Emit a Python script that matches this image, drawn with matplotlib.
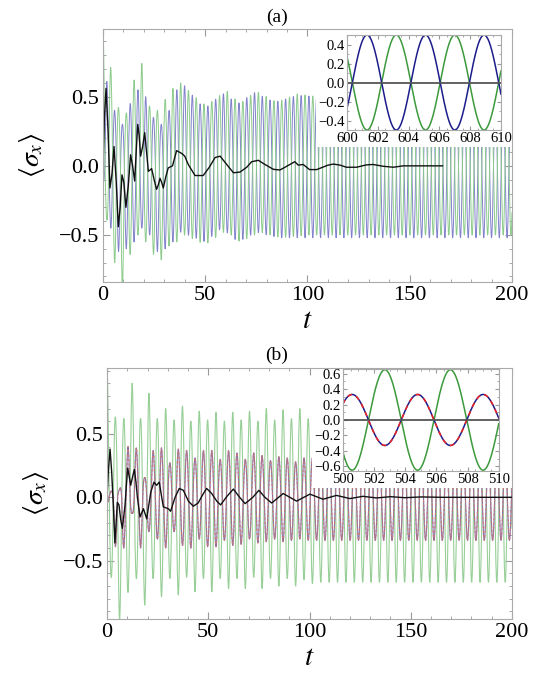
import numpy as np
import matplotlib
matplotlib.use("Agg")
import matplotlib.pyplot as plt
from matplotlib.patches import Rectangle
from matplotlib.ticker import MultipleLocator

plt.rcParams['font.family'] = ['Liberation Serif', 'DejaVu Serif']
plt.rcParams['mathtext.fontset'] = 'stix'

# ---- panel (a) data ----
period_a = 3.8
# green: peaks at k*T, troughs at (k+0.5)*T
green_a_up_t = [0, 3.8, 7.6, 11.4, 15.2, 19.0, 22.8, 26.6, 30.4, 34.2, 38, 45, 50, 55, 60, 67, 75, 85, 95, 105, 200]
green_a_up_v = [1.0, 0.71, 0.42, 0.38, 0.62, 0.74, 0.43, 0.40, 0.48, 0.56, 0.60, 0.50, 0.44, 0.48, 0.55, 0.45, 0.54, 0.46, 0.52, 0.50, 0.50]
green_a_lo_t = [1.9, 5.7, 9.5, 13.3, 17.1, 20.9, 24.7, 28.5, 32.3, 36.1, 40, 50, 60, 67, 77, 87, 100, 200]
green_a_lo_v = [-0.39, -0.70, -0.88, -0.64, -0.50, -0.55, -0.64, -0.68, -0.58, -0.55, -0.50, -0.57, -0.47, -0.55, -0.48, -0.52, -0.50, -0.50]
# blue: peaks at (k+0.5)*T, troughs at k*T
blue_a_up_t = [1.9, 5.7, 9.5, 13.3, 17.1, 20.9, 24.7, 28.5, 32.3, 36.1, 40, 47, 52, 58, 66, 74, 84, 95, 105, 200]
blue_a_up_v = [0.61, 0.40, 0.30, 0.45, 0.55, 0.50, 0.35, 0.30, 0.40, 0.55, 0.58, 0.45, 0.43, 0.53, 0.45, 0.53, 0.46, 0.51, 0.50, 0.50]
blue_a_lo_t = [0, 3.8, 7.6, 11.4, 15.2, 19.0, 22.8, 26.6, 30.4, 34.2, 38, 45, 50, 58, 66, 75, 86, 100, 200]
blue_a_lo_v = [-0.10, -0.45, -0.62, -0.60, -0.55, -0.45, -0.50, -0.62, -0.60, -0.55, -0.48, -0.52, -0.55, -0.45, -0.55, -0.48, -0.52, -0.52, -0.52]
black_a_t = [0, 0.7, 1.5, 2.5, 3.4, 4.4, 5.4, 6.5, 7.5, 8.4, 9.3, 10.2, 11.2, 12.4, 13.5, 14.5, 15.5, 16.3, 17.0,
             17.7, 18.4, 19.4, 20.4, 21.3, 22.2, 23.0, 23.8, 25.0, 26.2, 27.0, 27.9, 28.7, 29.5, 30.7, 31.9,
             34, 36, 38.5, 40, 41.7, 45, 49, 52, 54.8, 57.3, 60.5, 63.8, 67, 70.3, 72.7, 76, 79.2, 83.3, 86.5,
             89, 91.4, 93.8, 95.5, 97.9, 101, 104.5, 110, 112.7, 116, 119, 124, 128.8, 132, 137, 142, 146.8,
             151.7, 158, 166]
black_a_v = [0.0, 0.35, 0.56, 0.25, -0.16, -0.06, 0.14, -0.12, -0.44, -0.30, -0.065, -0.12, -0.30, -0.14, 0.08,
             0.0, -0.11, 0.12, 0.30, 0.22, 0.07, 0.14, 0.24, 0.10, -0.04, -0.03, -0.02, -0.10, -0.17, -0.14,
             -0.09, -0.12, -0.16, -0.08, -0.015, 0.0, 0.11, 0.09, 0.07, 0.01, -0.07, -0.07, -0.01, 0.06, 0.07,
             0.01, -0.05, -0.045, -0.01, 0.03, 0.04, 0.01, -0.025, -0.03, -0.01, 0.01, 0.03, 0.005, 0.01,
             -0.027, -0.027, 0.005, 0.013, 0.005, -0.01, -0.01, 0.007, 0.01, -0.003, -0.01, 0.0, 0.0, 0.0, 0.0]

# inset (a)
inset_a_period = 3.8
inset_a_blue_peak = 601.3
inset_a_green_peak = 603.2
inset_a_amp = 0.5

# ---- panel (b) data ----
period_b = 4.14
green_b_up = [1.03, 0.63, 0.62, 0.90, 0.62, 0.82, 0.62, 0.70, 0.61, 0.72, 0.60, 0.68, 0.61, 0.67, 0.60,
              0.67, 0.61, 0.68, 0.60, 0.70, 0.61, 0.69, 0.62, 0.70, 0.62, 0.66]
green_b_lo = [-0.63, -0.97, -0.75, -0.64, -0.85, -0.64, -0.785, -0.64, -0.77, -0.63, -0.745, -0.64, -0.745,
              -0.64, -0.72, -0.64, -0.72, -0.63, -0.72, -0.64, -0.70, -0.64, -0.70, -0.65, -0.68, -0.67]
rb_b_up = [0.05, 0.06, 0.40, 0.39, 0.15, 0.37, 0.39, 0.27, 0.38, 0.37, 0.31, 0.37, 0.37, 0.30, 0.37,
           0.35, 0.30, 0.35, 0.33, 0.29, 0.32, 0.31, 0.28, 0.31, 0.31, 0.31]
rb_b_lo = [0.0, -0.39, -0.40, -0.12, -0.40, -0.27, -0.33, -0.40, -0.27, -0.38, -0.40, -0.33, -0.39, -0.39,
           -0.34, -0.38, -0.37, -0.33, -0.36, -0.35, -0.33, -0.35, -0.34, -0.33, -0.34, -0.34]
black_b_t = [0, 0.7, 1.5, 2.3, 3.1, 3.9, 4.5, 5.1, 5.9, 6.8, 7.6, 8.9, 9.6, 10.2, 11.0, 11.7, 12.6, 13.5, 14.3,
             15, 16.3, 18, 19.6, 21.6, 23.2, 24.5, 25.8, 27.8, 30.3, 31.4, 33.6, 35.7, 37.7, 40.2, 42.6, 45,
             47.6, 49.2, 51.7, 54.2, 56.1, 59.1, 62.4, 65.5, 68.2, 72, 75, 78, 81.3, 87, 93.6, 100.2, 106.7,
             113.3, 120, 126.4, 133, 140, 147, 155, 165, 180, 200]
black_b_v = [0.0, 0.22, 0.38, 0.20, -0.06, -0.36, -0.20, -0.04, -0.06, -0.18, -0.245, -0.06, 0.10, 0.23, 0.16,
             0.095, 0.16, 0.22, 0.12, 0.0, -0.155, -0.09, -0.17, 0.04, 0.12, 0.095, 0.12, -0.075, -0.09, -0.11,
             0.0, 0.07, 0.055, -0.03, -0.07, -0.045, 0.03, 0.07, 0.03, -0.03, -0.06, 0.005, 0.065, 0.0, -0.05,
             0.0, 0.055, 0.0, -0.045, 0.03, -0.03, 0.025, -0.015, 0.015, -0.01, 0.008, -0.005, 0.005, -0.003,
             0.003, 0.0, 0.0, 0.0]

# inset (b)
inset_b_period = 4.2
inset_b_green_peak = 502.7
inset_b_green_amp = 0.65
inset_b_rb_peak = 500.6
inset_b_rb_amp = 0.33


def osc(t, period, t_peak, up_t, up_v, lo_t, lo_v):
    c = np.cos(2 * np.pi * (t - t_peak) / period)
    up = np.interp(t, up_t, up_v)
    lo = np.interp(t, lo_t, lo_v)
    return np.where(c > 0, c * up, -c * lo)


def style_main(ax, ylim, yticks):
    ax.set_xlim(0, 200)
    ax.set_ylim(*ylim)
    ax.set_xticks([0, 50, 100, 150, 200])
    ax.xaxis.set_minor_locator(MultipleLocator(10))
    ax.set_yticks(yticks)
    ax.set_yticklabels([('%.1f' % v).replace('-', '\u2212') for v in yticks])
    ax.yaxis.set_minor_locator(MultipleLocator(0.1))
    ax.tick_params(which='both', direction='in', top=True, right=True, color='#999999',
                   labelsize=16, pad=3)
    ax.tick_params(which='major', length=5)
    ax.tick_params(which='minor', length=2.5)
    for s in ax.spines.values():
        s.set_color('#aaaaaa')
        s.set_linewidth(0.8)
    ax.set_ylabel(r'$\langle\sigma_x\rangle$', fontsize=20, labelpad=8)
    ax.set_xlabel(r'$t$', fontsize=21, labelpad=2)


def style_inset(ax, xlim, ylim, yticks):
    ax.set_xlim(*xlim)
    ax.set_ylim(*ylim)
    ax.set_xticks(np.arange(xlim[0], xlim[1] + 1, 2))
    ax.set_yticks(yticks)
    ax.set_yticklabels([('%.1f' % v).replace('-', '\u2212') for v in yticks])
    ax.xaxis.set_minor_locator(MultipleLocator(0.5))
    ax.yaxis.set_minor_locator(MultipleLocator(0.1))
    ax.tick_params(which='both', direction='in', top=True, right=True, color='#999999',
                   labelsize=10.5, pad=1.5)
    ax.tick_params(which='major', length=3)
    ax.tick_params(which='minor', length=1.5)
    for s in ax.spines.values():
        s.set_color('#aaaaaa')
        s.set_linewidth(0.8)


fig = plt.figure(figsize=(5.46, 6.8), dpi=100)
t = np.linspace(0, 200, 12001)

# ---------- (a) ----------
ax1 = fig.add_axes([0.1886, 0.5853, 0.7491, 0.3721])
ga = osc(t, period_a, 0.0, green_a_up_t, green_a_up_v, green_a_lo_t, green_a_lo_v)
ba = osc(t, period_a, period_a / 2, blue_a_up_t, blue_a_up_v, blue_a_lo_t, blue_a_lo_v)
ax1.plot(t, ba, color='#8282cc', lw=0.7)
ax1.plot(t, ga, color='#8ccb8c', lw=0.7)
ax1.plot(black_a_t, black_a_v, color='#111111', lw=1.0, zorder=2.1)
ax1.add_patch(Rectangle((104.2, 0.138), 100, 1.0, facecolor='white', edgecolor='none', zorder=2.3))
style_main(ax1, (-0.84, 0.99), [-0.5, 0.0, 0.5])
fig.text(277 / 546, 1 - 17 / 680, '(a)', ha='center', va='center', fontsize=14)

ins1 = fig.add_axes([0.6355, 0.8088, 0.2821, 0.1397])
ti = np.linspace(600, 610, 1001)
const = ([0, 1e4], [inset_a_amp] * 2, [0, 1e4], [-inset_a_amp] * 2)
ins1.plot(ti, osc(ti, inset_a_period, inset_a_green_peak, *const), color='#3c9a3c', lw=1.1)
ins1.plot(ti, osc(ti, inset_a_period, inset_a_blue_peak, *const), color='#1c1c8c', lw=1.1)
ins1.axhline(0, color='#555555', lw=1.3)
style_inset(ins1, (600, 610), (-0.5, 0.5), [-0.4, -0.2, 0.0, 0.2, 0.4])

# ---------- (b) ----------
ax2 = fig.add_axes([0.1960, 0.0897, 0.7417, 0.3691])
kb = np.arange(len(green_b_up)) * period_b
gb = osc(t, period_b, 0.0, list(kb) + [200], green_b_up + [green_b_up[-1]],
         list(kb + period_b / 2) + [200], green_b_lo + [green_b_lo[-1]])
rb = osc(t, period_b, period_b / 2, list(kb + period_b / 2) + [200], rb_b_up + [rb_b_up[-1]],
         list(kb) + [200], rb_b_lo + [rb_b_lo[-1]])
ax2.plot(t, gb, color='#98cf98', lw=0.8)
ax2.plot(t, rb, color='#8a70a8', lw=0.8)
ax2.plot(t, rb, color='#c87878', lw=0.8, dashes=(2, 2))
ax2.plot(black_b_t, black_b_v, color='#111111', lw=1.0, zorder=2.1)
ax2.add_patch(Rectangle((101.0, 0.07), 100, 1.0, facecolor='white', edgecolor='none', zorder=2.3))
style_main(ax2, (-0.96, 1.02), [-0.5, 0.0, 0.5])
fig.text(277 / 546, 1 - 355 / 680, '(b)', ha='center', va='center', fontsize=14)

ins2 = fig.add_axes([0.6277, 0.3074, 0.2857, 0.1500])
ti = np.linspace(500, 510, 1001)
cg = ([0, 1e4], [inset_b_green_amp] * 2, [0, 1e4], [-inset_b_green_amp] * 2)
cr = ([0, 1e4], [inset_b_rb_amp] * 2, [0, 1e4], [-inset_b_rb_amp] * 2)
rb_i = osc(ti, inset_b_period, inset_b_rb_peak, *cr)
ins2.plot(ti, osc(ti, inset_b_period, inset_b_green_peak, *cg), color='#3c9a3c', lw=1.1)
ins2.plot(ti, rb_i, color='#1c1c8c', lw=1.1)
ins2.plot(ti, rb_i, color='#ee2222', lw=1.1, dashes=(3, 3))
ins2.axhline(0, color='#555555', lw=1.3)
style_inset(ins2, (500, 510), (-0.66, 0.66), [-0.6, -0.4, -0.2, 0.0, 0.2, 0.4, 0.6])

fig.savefig('out.png', dpi=100)
